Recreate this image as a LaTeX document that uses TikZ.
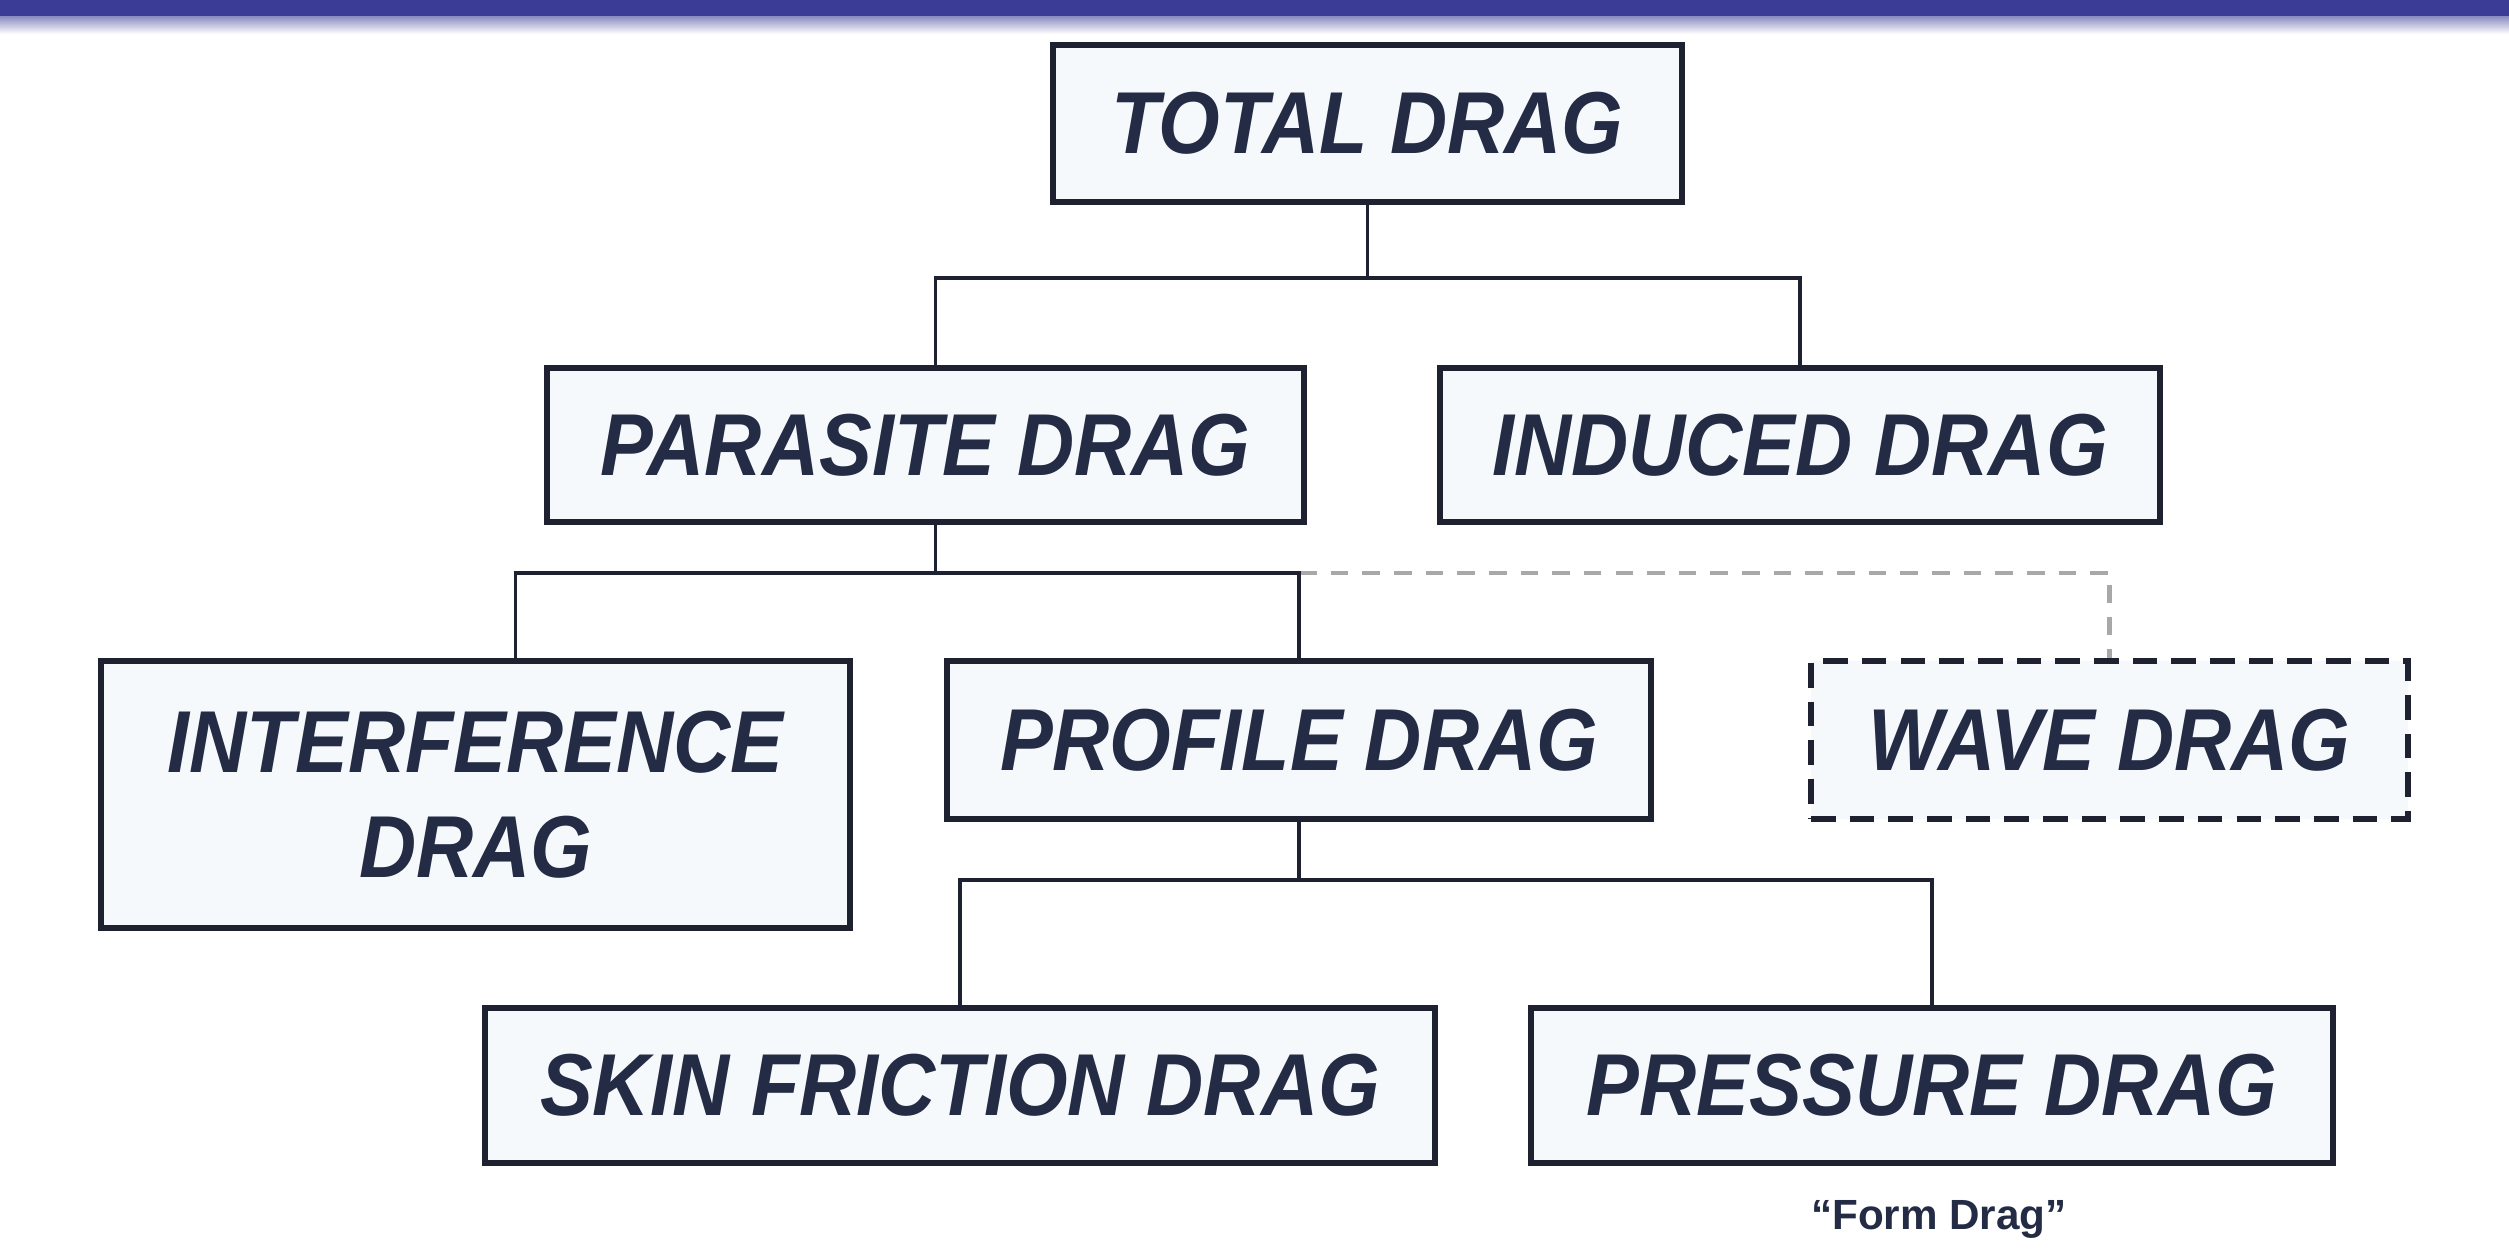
\documentclass[tikz,border=0pt]{standalone}
\usepackage{fontspec}
\setmainfont{Liberation Sans}
\newfontfamily\boxfont[FakeStretch=0.9]{Liberation Sans}
\definecolor{bandblue}{HTML}{3A3C96}
\definecolor{txtcol}{HTML}{232B45}
\definecolor{edgecol}{HTML}{1E2230}
\definecolor{boxfill}{HTML}{F6F9FC}
\definecolor{dashgray}{HTML}{A8A8A8}
\begin{document}
\begin{tikzpicture}[x=0.01cm,y=-0.01cm,
  dbox/.style={draw=edgecol, line width=1.5pt, fill=boxfill, inner sep=0pt,
    text=txtcol, font=\boxfont\fontsize{25}{30}\selectfont\bfseries\itshape, align=center},
  conn/.style={draw=edgecol, line width=1.1pt},
  dconn/.style={draw=dashgray, line width=1.3pt, dash pattern=on 5pt off 4pt},
  dashbox/.style={dbox, dash pattern=on 7pt off 4pt}]
\useasboundingbox (0,0) rectangle (2509,1248);
\fill[white] (0,0) rectangle (2509,1248);
\fill[bandblue] (0,0) rectangle (2509,16);
\shade[top color=bandblue!60, bottom color=white] (0,16) rectangle (2509,34);

\node[dbox, minimum width=629*0.01cm, minimum height=157*0.01cm] (total) at (1367.5,123.5) {TOTAL DRAG};
\node[dbox, minimum width=757*0.01cm, minimum height=154*0.01cm] (parasite) at (925.5,445) {PARASITE DRAG};
\node[dbox, minimum width=720*0.01cm, minimum height=154*0.01cm] (induced) at (1800,445) {INDUCED DRAG};
\node[dbox, minimum width=749*0.01cm, minimum height=267*0.01cm] (interf) at (475.5,794.5) {INTERFERENCE\\DRAG};
\node[dbox, minimum width=704*0.01cm, minimum height=158*0.01cm] (profile) at (1299,740) {PROFILE DRAG};
\node[dashbox, minimum width=597*0.01cm, minimum height=158*0.01cm] (wave) at (2109.5,740) {WAVE DRAG};
\node[dbox, minimum width=950*0.01cm, minimum height=155*0.01cm] (skin) at (960,1085.5) {SKIN FRICTION DRAG};
\node[dbox, minimum width=802*0.01cm, minimum height=155*0.01cm] (pressure) at (1932,1085.5) {PRESSURE DRAG};
\node[text=txtcol, font=\fontsize{12}{14}\selectfont\bfseries] (form) at (1939,1219) {“Form Drag”};

\coordinate (j1) at (1367.5,278);
\coordinate (j2) at (936,573);
\coordinate (j3) at (1304,880);

\draw[conn] (total.south) -- (total.south |- j1);
\draw[conn] ([xshift=0.1cm]parasite.north) -- ([xshift=0.1cm]parasite.north |- j1) -| (induced.north);
\draw[dconn] (profile.north |- j2) -| (wave.north);
\draw[conn] ([xshift=0.1cm]parasite.south) -- ([xshift=0.1cm]parasite.south |- j2);
\draw[conn] ([xshift=0.4cm]interf.north) |- (profile.north |- j2) -- (profile.north);
\draw[conn] (profile.south) -- (profile.south |- j3);
\draw[conn] (skin.north) |- (j3) -| (pressure.north);
\end{tikzpicture}
\end{document}
